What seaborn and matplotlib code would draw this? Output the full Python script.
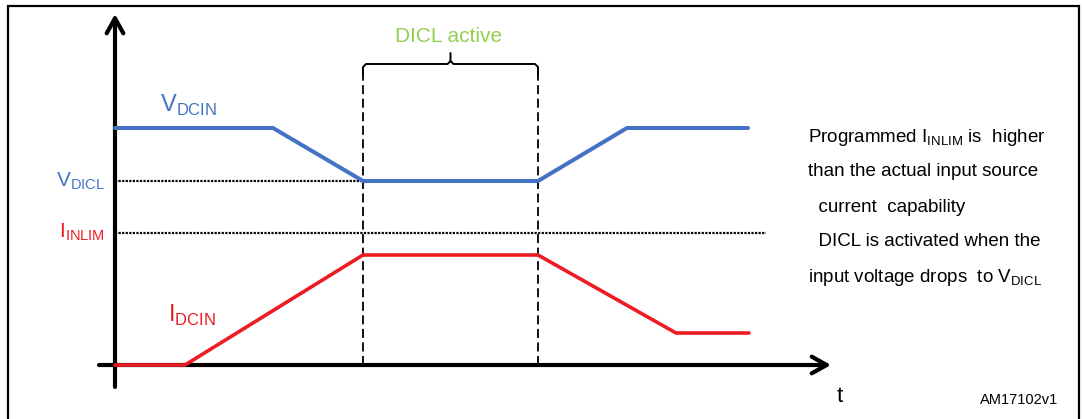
import matplotlib.pyplot as plt
import seaborn as sns
import pandas as pd
from matplotlib.patches import Rectangle

sns.set_theme(style='white')
plt.rcParams['font.family'] = ['Liberation Sans', 'DejaVu Sans']
plt.rcParams['mathtext.fontset'] = 'custom'
plt.rcParams['mathtext.rm'] = 'Liberation Sans'

# signal shapes (t, level), origin at the axes crossing
t_vdcin = [0, 158, 248, 423, 512, 633]
v_dcin = [237, 237, 184, 184, 237, 237]
t_idcin = [0, 70, 248, 423, 561, 634]
i_dcin = [0, 0, 110, 110, 32, 32]
v_dicl = 184
i_inlim = 132
t_vdicl_end = 248
t_inlim_end = 651
t_active = [248, 423]

note_lines = [r'Programmed I$_{\mathregular{INLIM}}$ is  higher',
              'than the actual input source',
              '  current  capability',
              '  DICL is activated when the',
              r'input voltage drops  to V$_{\mathregular{DICL}}$']

blue = '#4472C4'
red = '#ED1C24'
green = '#92D050'

df_v = pd.DataFrame({'t': t_vdcin, 'level': v_dcin})
df_i = pd.DataFrame({'t': t_idcin, 'level': i_dcin})

fig = plt.figure(figsize=(10.82, 4.19), dpi=100)
ax = fig.add_axes([0, 0, 1, 1])

# frame
ax.add_patch(Rectangle((-107, -70), 1071, 429, fill=False, ec='black', lw=1.6))

# reference levels
ax.plot([0, t_vdicl_end], [v_dicl, v_dicl], color='black', lw=1.6, ls=(0, (1, 0.6)))
ax.plot([0, t_inlim_end], [i_inlim, i_inlim], color='black', lw=1.6, ls=(0, (1, 0.6)))

# DICL active window
for tx in t_active:
    ax.plot([tx, tx], [0, 290], color='black', lw=1.3, ls=(0, (5, 2.5)))
t0, t1 = t_active
tm = (t0 + t1) / 2
ax.plot([t0, t0, t0 + 3, tm - 3, tm, tm], [290, 298, 301, 301, 304, 312], color='black', lw=1.4)
ax.plot([t1, t1, t1 - 3, tm + 3, tm], [290, 298, 301, 301, 304], color='black', lw=1.4)
ax.text(tm - 2, 329, 'DICL active', color=green, fontsize=15, ha='center', va='center')

# axes arrows
arrow = dict(arrowstyle='->,head_length=0.9,head_width=0.5', lw=3, color='black',
             shrinkA=0, shrinkB=0)
ax.annotate('', xy=(0, 351), xytext=(0, -22), arrowprops=arrow, zorder=2)
ax.annotate('', xy=(716, 0), xytext=(-16, 0), arrowprops=arrow, zorder=2)

# signals
sns.lineplot(data=df_i, x='t', y='level', sort=False, estimator=None, color=red, lw=2.6,
             ax=ax, zorder=5)
sns.lineplot(data=df_v, x='t', y='level', sort=False, estimator=None, color=blue, lw=2.9,
             ax=ax, zorder=5)
ax.set_xlim(-115, 967)
ax.set_ylim(-54, 365)
ax.axis('off')

# labels
ax.text(45, 253, r'V$_{\mathregular{DCIN}}$', color=blue, fontsize=17, ha='left', va='baseline')
ax.text(-10, 179, r'V$_{\mathregular{DICL}}$', color=blue, fontsize=15, ha='right', va='baseline')
ax.text(-10, 128, r'I$_{\mathregular{INLIM}}$', color=red, fontsize=15, ha='right', va='baseline')
ax.text(53, 43, r'I$_{\mathregular{DCIN}}$', color=red, fontsize=17, ha='left', va='baseline')
ax.text(725, -37, 't', color='black', fontsize=16, ha='center', va='baseline')
ax.text(943, -35, 'AM17102v1', color='black', fontsize=10.5, ha='right', va='center')

for k, line in enumerate(note_lines):
    ax.text(693, 228 - k * 35, line, color='black', fontsize=13.5, ha='left', va='center')

fig.savefig('out.png', dpi=100)
